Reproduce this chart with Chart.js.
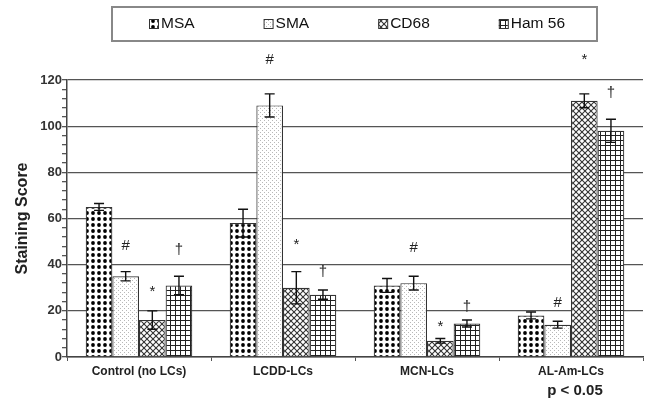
<!DOCTYPE html>
<html lang="en">
<head>
<meta charset="UTF-8">
<script src="https://cdn.jsdelivr.net/npm/chart.js"></script>
<title>Staining Score</title>
<style>
  body { margin: 0; background: #fff; }
  .wrap { width: 653px; height: 403px; position: relative; }
</style>
</head>
<body>
<div class="wrap"><canvas id="chart"></canvas></div>
<script>
// data
var categories = ['Control (no LCs)', 'LCDD-LCs', 'MCN-LCs', 'AL-Am-LCs'];
var seriesNames = ['MSA', 'SMA', 'CD68', 'Ham 56'];

var msa  = [65, 58, 31, 18];
var sma  = [35, 109, 32, 14];
var cd68 = [16, 30, 7, 111];
var ham  = [31, 27, 14.5, 98];

var msaErr  = [1.5, 6, 3, 1.5];
var smaErr  = [2, 5, 3, 1.5];
var cd68Err = [4, 7, 1, 3];
var hamErr  = [4, 2, 1.5, 5];

// significance marks and the score level they sit at
var smaMark  = ['#', '#', '#', '#'];
var smaMarkAt  = [48, 128.7, 47.2, 23.4];
var cd68Mark = ['*', '*', '*', '*'];
var cd68MarkAt = [28.2, 48.5, 13, 128.7];
var hamMark  = ['\u2020', '\u2020', '\u2020', '\u2020'];
var hamMarkAt  = [46.4, 36.8, 21.7, 114.4];

var yTicks = [0, 20, 40, 60, 80, 100, 120];

var FONT = '"Liberation Sans", Arial, sans-serif';

function tile(w, h, draw) {
    var c = document.createElement('canvas');
    c.width = w; c.height = h;
    var g = c.getContext('2d');
    g.fillStyle = '#fff';
    g.fillRect(0, 0, w, h);
    draw(g);
    return c;
}

var tiles = [
    // MSA: black dots
    tile(6, 6, function (g) {
        g.fillStyle = '#000';
        g.beginPath(); g.arc(3, 3, 1.9, 0, Math.PI * 2); g.fill();
    }),
    // SMA: faint grey dots
    tile(4, 4, function (g) {
        g.fillStyle = '#b8b8b8';
        g.fillRect(0, 0, 1, 1);
        g.fillRect(2, 2, 1, 1);
    }),
    // CD68: diagonal cross hatch
    tile(6, 6, function (g) {
        g.strokeStyle = '#333';
        g.lineWidth = 1.1;
        for (var o = -6; o <= 6; o += 6) {
            g.beginPath(); g.moveTo(o, 0); g.lineTo(o + 6, 6); g.stroke();
            g.beginPath(); g.moveTo(o + 6, 0); g.lineTo(o, 6); g.stroke();
        }
    }),
    // Ham 56: square grid
    tile(5, 5, function (g) {
        g.fillStyle = '#222';
        g.fillRect(0, 0, 5, 1);
        g.fillRect(0, 0, 1, 5);
    })
];

var ctx = document.getElementById('chart').getContext('2d');
var patterns = tiles.map(function (t) { return ctx.createPattern(t, 'repeat'); });

var values = [msa, sma, cd68, ham];
var errors = [msaErr, smaErr, cd68Err, hamErr];
var marks = [null, smaMark, cd68Mark, hamMark];
var markAt = [null, smaMarkAt, cd68MarkAt, hamMarkAt];

var datasets = seriesNames.map(function (name, i) {
    return {
        label: name,
        data: values[i],
        backgroundColor: patterns[i],
        borderColor: '#333',
        borderWidth: 1.2,
        categoryPercentage: 0.74,
        barPercentage: 1.0
    };
});

// error bars, significance marks and the p value note
var extras = {
    id: 'extras',
    afterDatasetsDraw: function (chart) {
        var c = chart.ctx;
        var y = chart.scales.y;
        c.save();
        datasets.forEach(function (ds, i) {
            var meta = chart.getDatasetMeta(i);
            meta.data.forEach(function (bar, j) {
                var v = values[i][j], e = errors[i][j];
                var top = y.getPixelForValue(v + e);
                var bot = y.getPixelForValue(v - e);
                c.strokeStyle = '#111';
                c.lineWidth = 1.4;
                c.beginPath();
                c.moveTo(bar.x, top); c.lineTo(bar.x, bot);
                c.moveTo(bar.x - 5, top); c.lineTo(bar.x + 5, top);
                c.moveTo(bar.x - 5, bot); c.lineTo(bar.x + 5, bot);
                c.stroke();
                if (marks[i]) {
                    c.fillStyle = '#222';
                    c.font = '15px ' + FONT;
                    c.textAlign = 'center';
                    c.textBaseline = 'middle';
                    c.fillText(marks[i][j], bar.x, y.getPixelForValue(markAt[i][j]));
                }
            });
        });
        var x = chart.scales.x;
        c.fillStyle = '#222';
        c.font = 'bold 15px ' + FONT;
        c.textAlign = 'center';
        c.textBaseline = 'middle';
        c.fillText('p < 0.05', x.getPixelForValue(3) + 4, 391);
        c.restore();
    }
};

// boxed legend on top
var boxLegend = {
    id: 'boxLegend',
    afterDraw: function (chart) {
        var c = chart.ctx;
        c.save();
        c.strokeStyle = '#888';
        c.lineWidth = 2;
        c.strokeRect(112, 7, 485, 34);
        c.font = '15.5px ' + FONT;
        c.textBaseline = 'middle';
        c.textAlign = 'left';
        var x = 149;
        seriesNames.forEach(function (name, i) {
            c.fillStyle = patterns[i];
            c.fillRect(x, 19, 9, 9);
            c.strokeStyle = '#333';
            c.lineWidth = 1;
            c.strokeRect(x + 0.5, 19.5, 9, 9);
            c.fillStyle = '#111';
            c.fillText(name, x + 12, 24);
            x += 12 + c.measureText(name).width + 69;
        });
        c.restore();
    }
};

new Chart(ctx, {
    type: 'bar',
    data: { labels: categories, datasets: datasets },
    options: {
        responsive: true,
        maintainAspectRatio: false,
        animation: false,
        layout: { padding: { top: 80, right: 10, left: 0, bottom: 0 } },
        plugins: {
            legend: { display: false },
            tooltip: { enabled: false }
        },
        scales: {
            x: {
                afterFit: function (s) { s.height = 46; },
                grid: { offset: true, drawOnChartArea: false, tickLength: 4, color: '#555' },
                border: { color: '#444', width: 1.5 },
                ticks: { color: '#222', padding: 3, font: { family: FONT, size: 12, weight: 'bold' } }
            },
            y: {
                min: 0,
                max: 120,
                afterFit: function (s) { s.width = 67; },
                afterBuildTicks: function (s) {
                    var t = [];
                    for (var v = 0; v <= 120; v += 4) t.push({ value: v });
                    s.ticks = t;
                },
                grid: {
                    tickLength: 5,
                    tickColor: '#555',
                    color: function (c) {
                        return c.tick && yTicks.indexOf(c.tick.value) >= 0 ? '#555' : 'rgba(0,0,0,0)';
                    },
                    lineWidth: 1.3
                },
                border: { color: '#444', width: 1.5 },
                ticks: {
                    autoSkip: false,
                    padding: 0,
                    color: '#333',
                    font: { family: FONT, size: 13, weight: 'bold' },
                    callback: function (v) { return yTicks.indexOf(v) >= 0 ? v : ''; }
                },
                title: {
                    display: true,
                    text: 'Staining Score',
                    color: '#222',
                    padding: { top: 13, bottom: 0 },
                    font: { family: FONT, size: 16, weight: 'bold' }
                }
            }
        }
    },
    plugins: [extras, boxLegend]
});
</script>
</body>
</html>
